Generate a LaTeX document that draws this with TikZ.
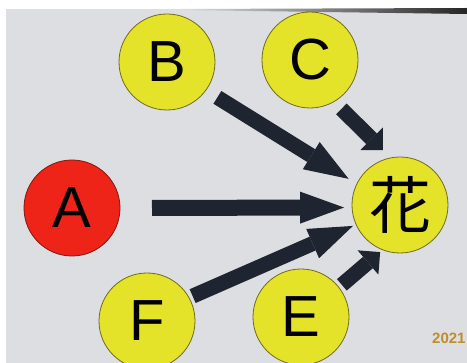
\documentclass[tikz,border=0pt]{standalone}
\usepackage{fontspec}
\setmainfont{Liberation Sans}
\newfontfamily\cjkfont{Noto Sans CJK JP}
\usetikzlibrary{arrows.meta}

\definecolor{screen}{RGB}{221,222,226}
\definecolor{ballyellow}{RGB}{229,226,42}
\definecolor{ballrim}{RGB}{110,106,30}
\definecolor{ballred}{RGB}{238,36,24}
\definecolor{redrim}{RGB}{130,24,14}
\definecolor{ink}{RGB}{30,36,48}
\definecolor{stampgold}{RGB}{196,140,36}

\tikzset{
  ball/.style={circle, minimum size=96pt, inner sep=0pt, outer sep=0pt,
    fill=ballyellow, draw=ballrim, line width=0.8pt,
    font=\fontsize{58}{60}\selectfont},
  link/.style={draw=ink, line width=15pt},
  longhead/.style={-{Triangle[length=44pt,width=32pt,line width=0pt]}},
  shorthead/.style={-{Triangle[length=16pt,width=32pt,line width=0pt]}},
  stamp/.style={inner sep=0pt, text=stampgold,
    font=\bfseries\fontsize{15}{15}\selectfont}
}

\begin{document}
\begin{tikzpicture}[x=1pt,y=-1pt]
  \useasboundingbox (0,0) rectangle (467,363);
  \clip (0,0) rectangle (467,363);

  % screen surface with its bezel edge at the top
  \fill[white] (0,0) rectangle (467,363);
  \fill[screen] (6,9) rectangle (467,363);
  \shade[left color=screen, right color=black!85]
    (180,9) -- (467,8) -- (467,14) -- (180,10) -- cycle;

  % circles
  \node[ball] (B) at (167,62) {B};
  \node[ball] (C) at (310,60) {C};
  \node[ball, fill=ballred, draw=redrim] (A) at (72,208) {A};
  \node[ball, font=\fontsize{62}{64}\selectfont] (hua) at (400,205) {\cjkfont 花};
  \node[ball] (F) at (147,321) {F};
  \node[ball] (E) at (301,317) {E};

  % block arrows into the flower
  \draw[link, line width=16pt, longhead, shorten <=32pt, shorten >=8pt]
    (A.0) -- (hua.183);
  \draw[link, longhead, shorten <=13.6pt, shorten >=9.7pt]
    (B.-36) -- (hua.154);
  \draw[link, shorthead, shorten <=10.4pt, shorten >=11.1pt]
    (C.-60) -- (hua.101);
  \draw[link, longhead, shorten <=4pt, shorten >=3.5pt]
    (F.29) -- (hua.204);
  \draw[link, shorthead, shorten <=4pt, shorten >=3.5pt]
    (E.38) -- (hua.249);

  % date stamp
  \node[stamp, anchor=west] (year) at (432,338) {2021};
\end{tikzpicture}
\end{document}
